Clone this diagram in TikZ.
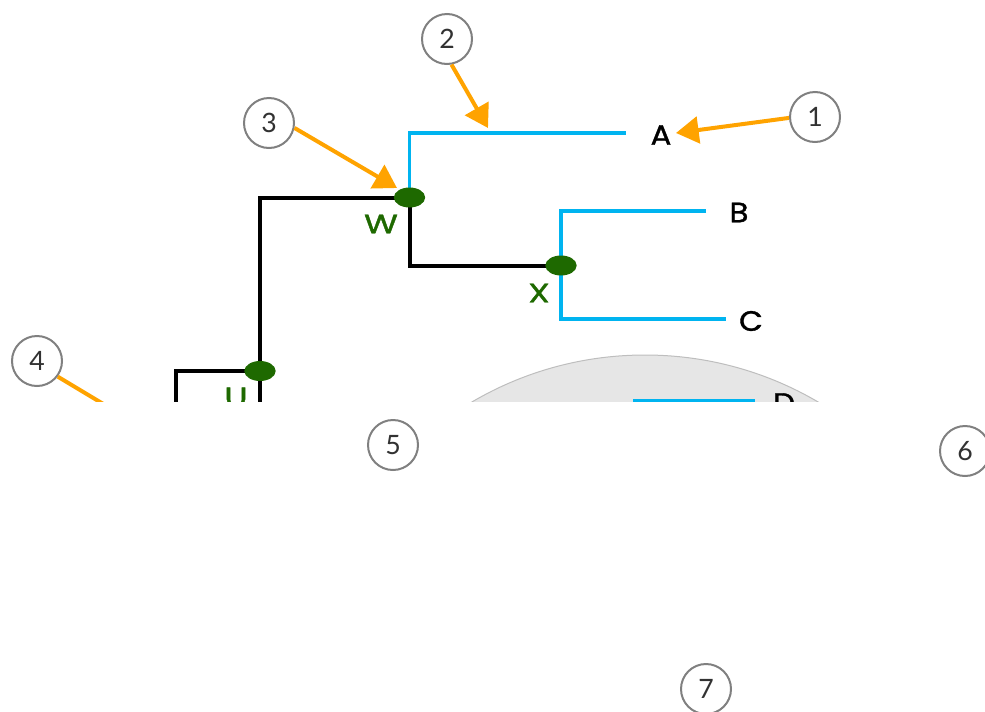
\documentclass[tikz,border=0pt]{standalone}
\usepackage{fontspec}
\setmainfont{Lato}
\newfontfamily\geo{Poppins}[FakeBold=1.2]
\usetikzlibrary{arrows.meta,shapes.geometric}
\definecolor{callout}{RGB}{255,163,0}
\definecolor{branchblue}{RGB}{0,180,240}
\definecolor{nodegreen}{RGB}{30,105,0}
\definecolor{ringgray}{RGB}{128,128,128}
\definecolor{digitgray}{RGB}{50,50,50}
\definecolor{cladefill}{RGB}{230,230,230}
\definecolor{cladeedge}{RGB}{190,190,190}
\begin{document}
\begin{tikzpicture}[x=0.75pt,y=-0.75pt,
  callnum/.style={circle, draw=ringgray, line width=1.5pt, fill=white,
    minimum size=37.5pt, inner sep=0pt, text=digitgray,
    font=\fontsize{20}{20}\selectfont},
  pointer/.style={callout, line width=3pt,
    -{Triangle[length=17pt,width=20pt]}},
  innernode/.style={ellipse, fill=nodegreen, minimum width=23.5pt,
    minimum height=15pt, inner sep=0pt},
  blackbranch/.style={black, line width=3pt},
  bluebranch/.style={branchblue, line width=2.3pt},
  tiplabel/.style={font=\geo\fontsize{21}{21}\selectfont, text=black,
    inner sep=0pt, xscale=1.1},
  nodelabel/.style={font=\geo\fontsize{20}{20}\selectfont, text=nodegreen,
    inner sep=0pt, xscale=1.3}]
\useasboundingbox (0,0) rectangle (985,711);

% tree positions
\coordinate (w) at (409.5,197.5);
\coordinate (x) at (561,265.5);
\coordinate (u) at (260,371);
\coordinate (tipA) at (626,133);
\coordinate (tipB) at (706,211);
\coordinate (tipC) at (726,319);
\coordinate (ulow) at (176,430);
\coordinate (udown) at (260,430);
\coordinate (dstem) at (633,401);
\coordinate (tipD) at (755,401);

\begin{scope}
  \clip (0,0) rectangle (985,401.5);
  % highlighted clade
  \draw[cladeedge, fill=cladefill, line width=0.75pt] (645,697) circle[radius=342];
  \draw[bluebranch] (dstem) -- (tipD);
  \node[tiplabel] (labD) at (784,403) {D};
  % branches
  \draw[bluebranch] (w) |- (tipA);
  \draw[bluebranch] (tipB) -| (x) |- (tipC);
  \draw[blackbranch] (u) |- (w);
  \draw[blackbranch] (w) |- (x);
  \draw[blackbranch] (ulow) |- (u) -- (udown);
  % internal nodes
  \node[innernode] (W) at (w) {};
  \node[innernode] (X) at (x) {};
  \node[innernode] (U) at (u) {};
  \node[nodelabel] (labW) at (381,224) {W};
  \node[nodelabel] (labX) at (539,293) {X};
  \node[nodelabel] (labU) at (236,397) {U};
  % tip labels
  \node[tiplabel] (labA) at (661,135) {A};
  \node[tiplabel] (labB) at (739,212.5) {B};
  \node[tiplabel] (labC) at (751,321) {C};
  % numbered callouts
  \node[callnum] (c4) at (37,361) {4};
  \draw[pointer] (c4.-37) -- (230,480);
\end{scope}

\node[callnum] (c1) at (815,117) {1};
\node[callnum] (c2) at (447,39) {2};
\node[callnum] (c3) at (269,123) {3};
\node[callnum] (c5) at (393,445) {5};
\node[callnum] (c6) at (965,451) {6};
\node[callnum] (c7) at (706,689) {7};

\draw[pointer] (c1.182) -- (676,133);
\draw[pointer] (c2.-80) -- (488,128);
\draw[pointer] (c3.-11) -- (397,188);
\end{tikzpicture}
\end{document}
